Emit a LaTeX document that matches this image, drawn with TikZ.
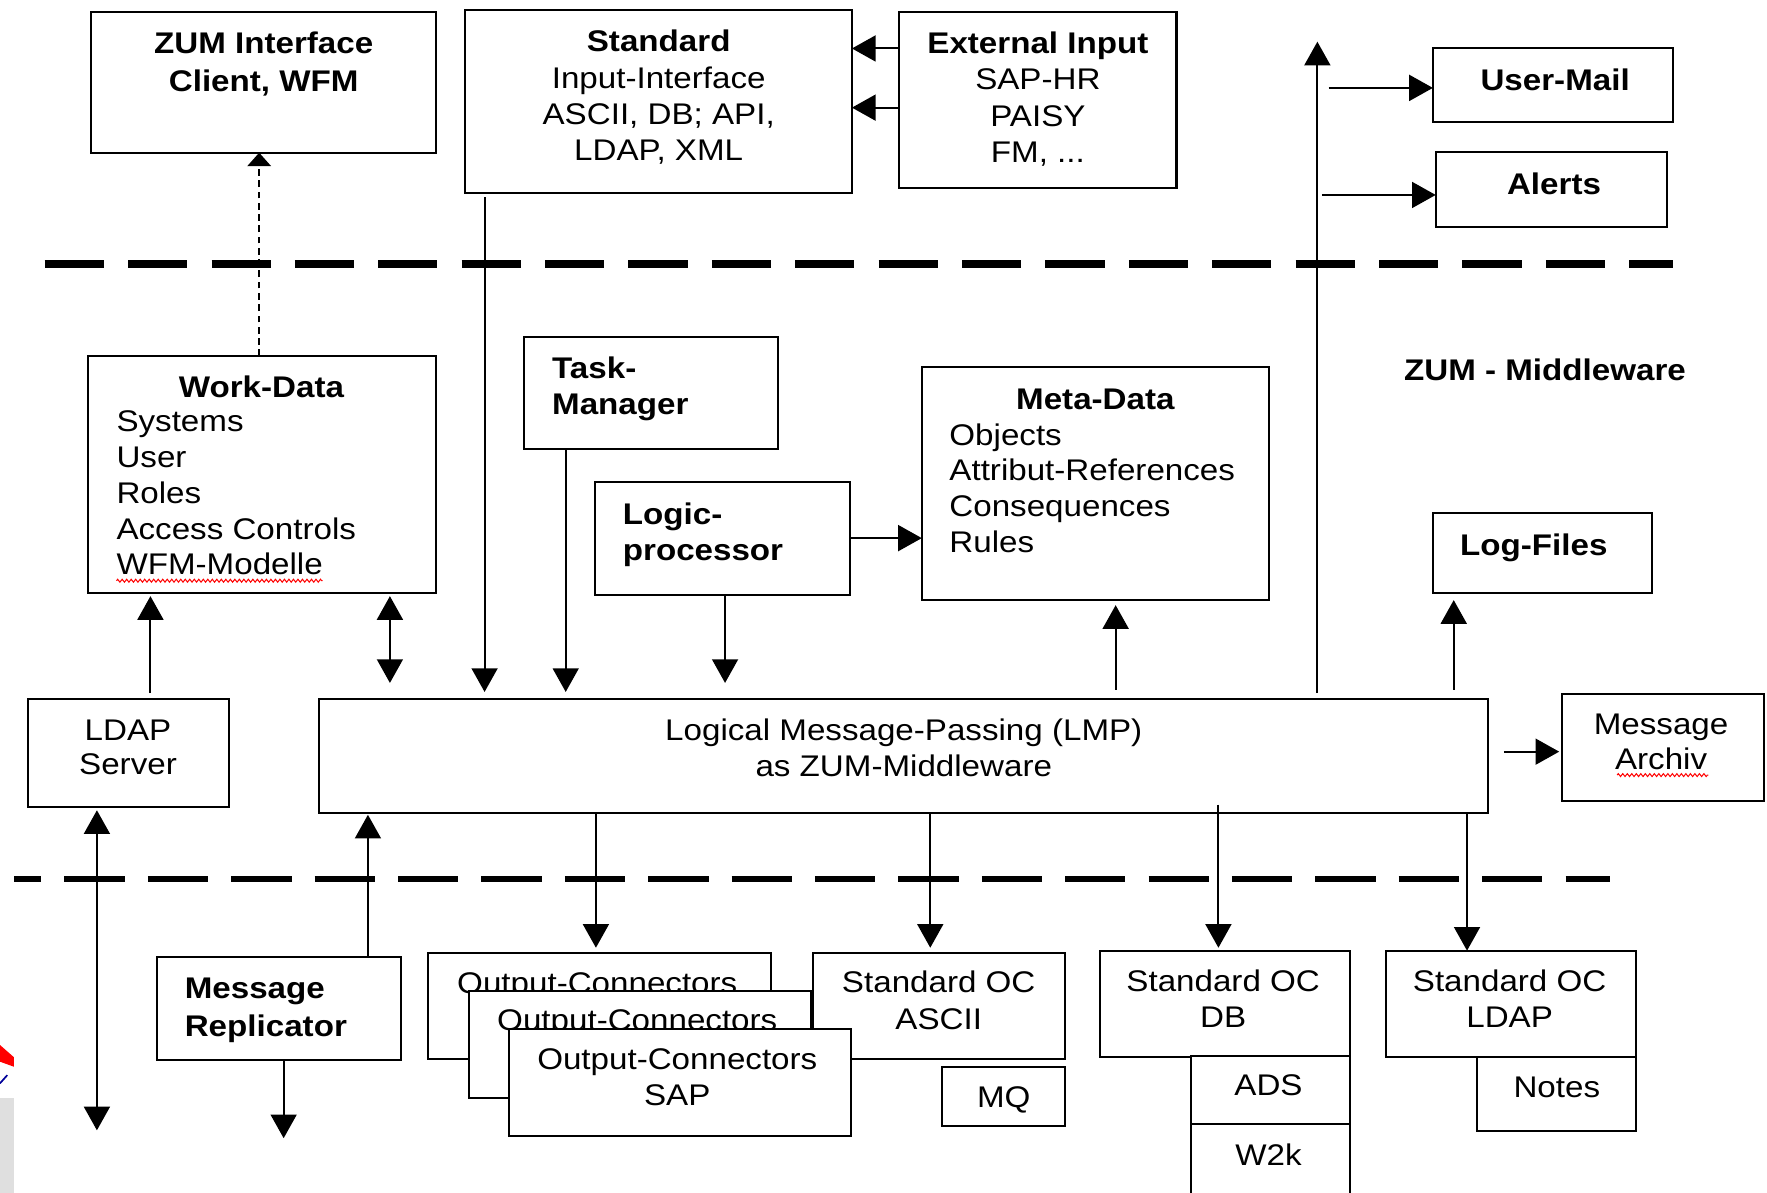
\documentclass[tikz,border=0pt]{standalone}
\usepackage{fontspec}
\setmainfont{Liberation Sans}[FakeStretch=1.11]
\usetikzlibrary{arrows.meta,decorations.pathmorphing}

% rectangle node from its corner coordinates: name, x1, y1, x2, y2
\newcommand\boxnode[5]{%
  \node[box, minimum width={#4-#2}, minimum height={#5-#3}] (#1) at ({(#2+#4)/2},{(#3+#5)/2}) {};}
% strut that fixes the height of the first line of a text block
\newcommand\tp{\rule{0pt}{25pt}}

\begin{document}
\begin{tikzpicture}[x=1pt,y=-1pt,
  box/.style={draw, line width=1.8pt, fill=white, rectangle, inner sep=0pt, outer sep=0pt},
  txt/.style={inner sep=0pt, outer sep=0pt, font=\fontsize{26.5}{#1}\selectfont},
  txt/.default=32,
  txtb/.style={inner sep=0pt, outer sep=0pt, font=\fontsize{26.5}{#1}\selectfont\bfseries},
  txtb/.default=32,
  arr/.style={line width=1.8pt, -{Triangle[length=21pt,width=23pt]}},
  arrtwo/.style={line width=1.8pt, {Triangle[length=21pt,width=23pt]}-{Triangle[length=21pt,width=23pt]}},
  dasharr/.style={line width=1.6pt, dash pattern=on 6pt off 4pt, -{Triangle[length=12pt,width=21pt]}},
  sepline/.style={line cap=butt},
  squiggle/.style={red, line width=0.9pt, decorate, decoration={zigzag, segment length=4pt, amplitude=1.3pt}}]

\useasboundingbox (0,0) rectangle (1568,1058.6);
\clip (0,0) rectangle (1568,1058.6);

% small logo remnant at the left edge
\fill[red] (0,927.3) -- (12.4,938.2) -- (12.4,946.6) -- (0,942.1) -- cycle;
\draw[blue!60!black, line width=1.5pt] (0,961.3) -- (6.5,954);
\fill[gray!25] (0,974) rectangle (12.4,1060);

% layer separators
\draw[sepline, line width=7pt, dash pattern=on 52.5pt off 21.5pt] (39.7,234) -- (1485,234);
\draw[sepline, line width=6pt, dash pattern=on 53.5pt off 20.5pt, dash phase=29.5pt] (12.7,780) -- (1428.8,780);

% ---------- top layer ----------
\boxnode{zumif}{80.5}{11}{387}{135.5}
\node[txtb=34.1, anchor=north, align=center] (zumT) at (234,22.3) {\tp ZUM Interface\\Client, WFM};

\boxnode{std}{413}{9}{756}{171}
\node[txt=32.3, anchor=north, align=center] (stdT) at (584.5,20.8)
  {\tp\textbf{Standard}\\Input-Interface\\ASCII, DB; API,\\LDAP, XML};

\boxnode{extin}{797.5}{11}{1044}{167}
\node[txt=32.4, anchor=north, align=center] (extT) at (921,22.3)
  {\tp\textbf{External Input}\\SAP-HR\\PAISY\\FM, ...};

\boxnode{usermail}{1271.5}{42.3}{1484.5}{108}
\node[txtb, anchor=base] (umT) at (1380,80.5) {User-Mail};

\boxnode{alerts}{1274}{135}{1479.6}{201}
\node[txtb, anchor=base] (alT) at (1379,173) {Alerts};

% ---------- middleware layer ----------
\node[txtb, anchor=base] (zmT) at (1371,337.2) {ZUM - Middleware};

\boxnode{workdata}{78}{316}{387}{526}
\node[txtb, anchor=base] (wdH) at (232,352.6) {Work-Data};
\node[txt=31.8, anchor=north west, align=left] (wdL) at (103.4,358)
  {\tp Systems\\User\\Roles\\Access Controls\\WFM-Modelle};
\draw[squiggle] (103.4,515.3) -- (286.3,515.3);

\boxnode{task}{465}{299}{690}{398}
\node[txtb=31.7, anchor=north west, align=left] (tmT) at (490,310.7) {\tp Task-\\Manager};

\boxnode{logic}{528}{428}{754}{528}
\node[txtb=32, anchor=north west, align=left] (lpT) at (552.7,440) {\tp Logic-\\processor};

\boxnode{meta}{818}{326}{1126}{532}
\node[txtb, anchor=base] (mdH) at (972,363) {Meta-Data};
\node[txt=31.7, anchor=north west, align=left] (mdL) at (842.5,370)
  {\tp Objects\\Attribut-References\\Consequences\\Rules};

\boxnode{logf}{1272}{455}{1466}{526}
\node[txtb, anchor=base] (lfT) at (1361,492.5) {Log-Files};

\boxnode{lmp}{283}{620}{1320}{721}
\node[txt=31.7, anchor=north, align=center] (lmpT) at (802,632.3)
  {\tp Logical Message-Passing (LMP)\\as ZUM-Middleware};

\boxnode{archiv}{1386}{616}{1565}{711}
\node[txt=31, anchor=north, align=center] (maT) at (1474,627) {\tp Message\\Archiv};
\draw[squiggle] (1435,687.8) -- (1516,687.8);

\boxnode{ldap}{24.5}{620}{203}{716}
\node[txt=30.4, anchor=north, align=center] (ldT) at (113.6,632.3) {\tp LDAP\\Server};

% ---------- connector layer ----------
\boxnode{repl}{139}{849.5}{355.6}{940.6}
\node[txtb=33.4, anchor=north west, align=left] (rpT) at (164,861) {\tp Message\\Replicator};

\boxnode{ocA}{379.5}{845.4}{684}{940}
\node[txt, anchor=base] (oaT) at (530,881.5) {Output-Connectors};

\boxnode{ascii}{721.8}{845.4}{944.7}{940}
\node[txt=32.4, anchor=north, align=center] (asT) at (833,856) {\tp Standard OC\\ASCII};

\boxnode{ocB}{416}{879}{720}{974}
\node[txt, anchor=base] (obT) at (565.5,914) {Output-Connectors};

\boxnode{ocC}{451.3}{912.8}{755.4}{1007.8}
\node[txt=31.6, anchor=north, align=center] (ocT) at (601,924) {\tp Output-Connectors\\SAP};

\boxnode{mq}{836.3}{946.6}{944.7}{999.2}
\node[txt, anchor=base] (mqT) at (890.7,982.6) {MQ};

\boxnode{db}{976.4}{843.6}{1198}{938.3}
\node[txt, anchor=north, align=center] (dbT) at (1085.4,855) {\tp Standard OC\\DB};

\boxnode{ads}{1057}{937}{1198}{997}
\node[txt, anchor=base] (adT) at (1125.6,971.7) {ADS};

\boxnode{w2k}{1057}{997}{1198}{1075}
\node[txt, anchor=base] (w2T) at (1125.6,1033.8) {W2k};

\boxnode{ldapoc}{1230}{843.6}{1452}{938.3}
\node[txt, anchor=north, align=center] (loT) at (1339.6,855) {\tp Standard OC\\LDAP};

\boxnode{notes}{1310.6}{938.3}{1452}{1003.3}
\node[txt, anchor=base] (ntT) at (1381.5,974) {Notes};

% free ends of connectors
\coordinate (topend) at (1169,37);
\coordinate (mailsrc) at (1179,78);
\coordinate (alertsrc) at (1173,173);
\coordinate (archsrc) at (1334.6,667);
\coordinate (ldapend) at (86,1003);
\coordinate (replend) at (251.7,1010);

% ---------- connectors ----------
\draw[arr] (extin.west |- 0,43) -- (std.east |- 0,43);
\draw[arr] (extin.west |- 0,95.5) -- (std.east |- 0,95.5);

\draw[dasharr] (workdata.north -| 230,0) -- (zumif.south -| 230,0);

\draw[arr, shorten <=4pt, shorten >=6pt] (std.south -| 430,0) -- (lmp.north -| 430,0);
\draw[arr, shorten >=6pt] (task.south -| 502,0) -- (lmp.north -| 502,0);
\draw[arr, shorten >=14pt] (logic.south -| 643.4,0) -- (lmp.north -| 643.4,0);
\draw[arr] (logic.east |- 0,477.5) -- (meta.west |- 0,477.5);
\draw[arr, shorten <=8pt, shorten >=5pt] (lmp.north -| 990,0) -- (meta.south -| 990,0);
\draw[arr, shorten <=8pt, shorten >=6.5pt] (lmp.north -| 1290,0) -- (logf.south -| 1290,0);

\draw[arr, shorten <=5pt] (lmp.north -| 1169,0) -- (topend);
\draw[arr] (mailsrc) -- (usermail.west |- mailsrc);
\draw[arr] (alertsrc) -- (alerts.west |- alertsrc);
\draw[arr, shorten >=2.4pt] (archsrc) -- (archiv.west |- archsrc);

\draw[arrtwo, shorten <=3pt, shorten >=14pt] (workdata.south -| 346,0) -- (lmp.north -| 346,0);
\draw[arr, shorten <=5pt, shorten >=3pt] (ldap.north -| 133.5,0) -- (workdata.south -| 133.5,0);

\draw[arrtwo, shorten <=3pt] (ldap.south -| 86,0) -- (ldapend);
\draw[arr, shorten >=2pt] (repl.north -| 326.5,0) -- (lmp.south -| 326.5,0);
\draw[arr] (repl.south -| 251.7,0) -- (replend);

\draw[arr, shorten >=4.4pt] (lmp.south -| 528.8,0) -- (ocA.north -| 528.8,0);
\draw[arr, shorten >=4.4pt] (lmp.south -| 825.5,0) -- (ascii.north -| 825.5,0);
\draw[arr, shorten <=-7pt, shorten >=2.6pt] (lmp.south -| 1081.2,0) -- (db.north -| 1081.2,0);
\draw[arr] (lmp.south -| 1301.8,0) -- (ldapoc.north -| 1301.8,0);

\end{tikzpicture}
\end{document}
